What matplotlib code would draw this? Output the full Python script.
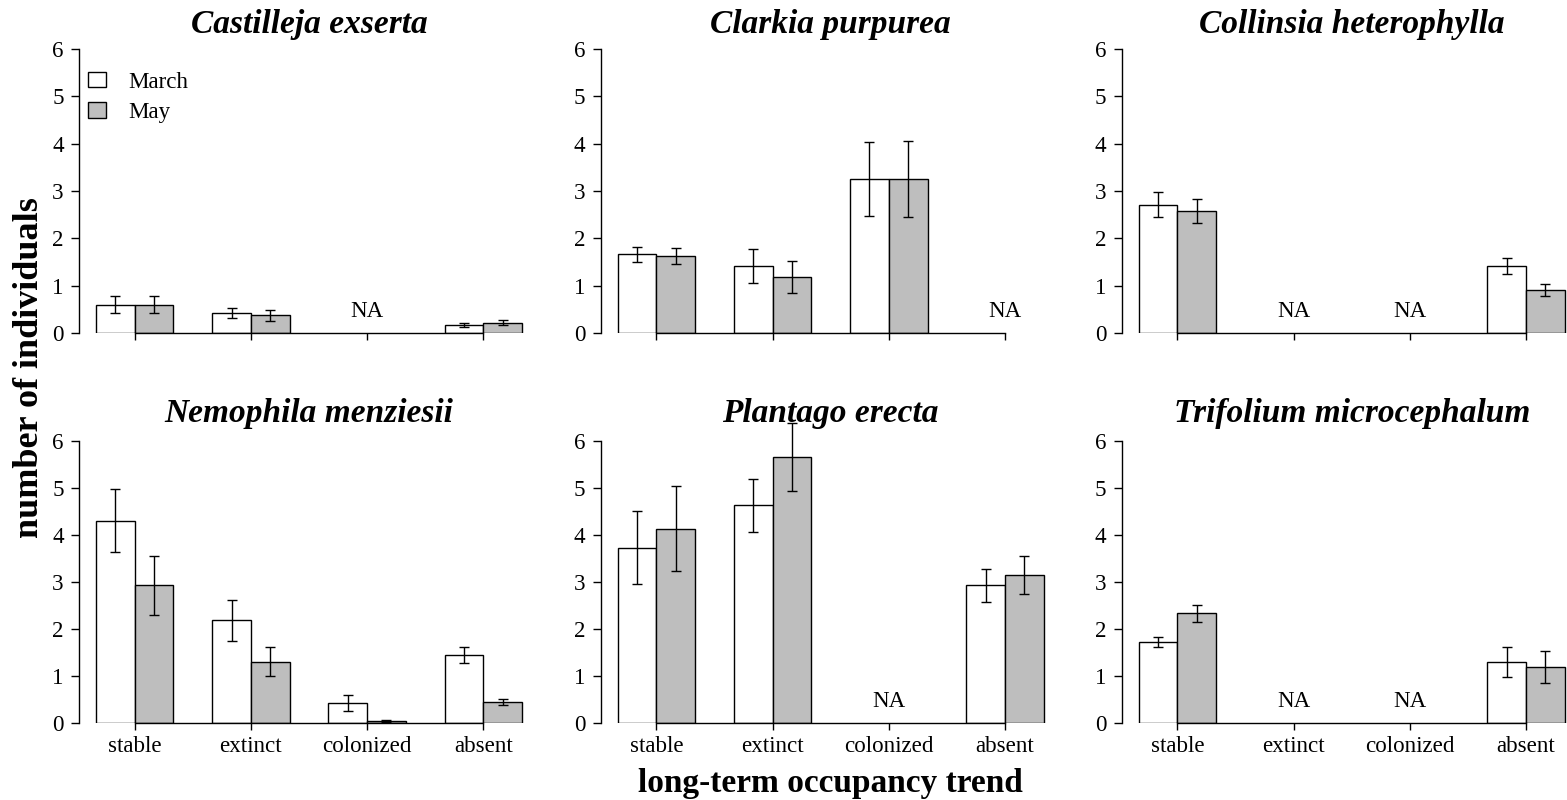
import numpy as np
import matplotlib
matplotlib.use("Agg")
from matplotlib import pyplot as plt
from matplotlib.patches import Patch

plt.rcParams['font.family'] = ['Liberation Serif', 'DejaVu Serif']

# occupancy trend classes along the x axis
trends = ["stable", "extinct", "colonized", "absent"]

species = ["Castilleja exserta", "Clarkia purpurea", "Collinsia heterophylla",
           "Nemophila menziesii", "Plantago erecta", "Trifolium microcephalum"]

NA = np.nan

# mean number of individuals (+/- SE), one list per species, NA where no plots
castilleja_march = [0.60, 0.42, NA, 0.17]
castilleja_march_se = [0.18, 0.11, NA, 0.045]
castilleja_may = [0.60, 0.37, NA, 0.22]
castilleja_may_se = [0.18, 0.12, NA, 0.06]

clarkia_march = [1.66, 1.415, 3.25, NA]
clarkia_march_se = [0.15, 0.35, 0.78, NA]
clarkia_may = [1.63, 1.19, 3.25, NA]
clarkia_may_se = [0.17, 0.34, 0.80, NA]

collinsia_march = [2.71, NA, NA, 1.415]
collinsia_march_se = [0.26, NA, NA, 0.175]
collinsia_may = [2.58, NA, NA, 0.915]
collinsia_may_se = [0.26, NA, NA, 0.13]

nemophila_march = [4.30, 2.18, 0.42, 1.447]
nemophila_march_se = [0.665, 0.44, 0.175, 0.175]
nemophila_may = [2.93, 1.30, 0.05, 0.447]
nemophila_may_se = [0.63, 0.31, 0.02, 0.07]

plantago_march = [3.73, 4.63, NA, 2.93]
plantago_march_se = [0.785, 0.565, NA, 0.35]
plantago_may = [4.13, 5.66, NA, 3.15]
plantago_may_se = [0.90, 0.72, NA, 0.40]

trifolium_march = [1.72, NA, NA, 1.30]
trifolium_march_se = [0.115, NA, NA, 0.315]
trifolium_may = [2.33, NA, NA, 1.20]
trifolium_may_se = [0.175, NA, NA, 0.34]

march = [castilleja_march, clarkia_march, collinsia_march,
         nemophila_march, plantago_march, trifolium_march]
march_se = [castilleja_march_se, clarkia_march_se, collinsia_march_se,
            nemophila_march_se, plantago_march_se, trifolium_march_se]
may = [castilleja_may, clarkia_may, collinsia_may,
       nemophila_may, plantago_may, trifolium_may]
may_se = [castilleja_may_se, clarkia_may_se, collinsia_may_se,
          nemophila_may_se, plantago_may_se, trifolium_may_se]

W, H = 1567, 800
fig = plt.figure(figsize=(W / 100, H / 100), dpi=100)

# axes boxes in pixels: left edges per column, (top, bottom) per row
col_left = [79, 600.7, 1121.7]
ax_w = 460
rows = [(49, 333), (440.7, 723)]
title_pad = [11.5, 13.7]

w = 1 / 3.0
x = np.arange(len(trends))
tick_fs = 16.6

for k in range(6):
    r, c = divmod(k, 3)
    top, bot = rows[r]
    ax = fig.add_axes([col_left[c] / W, (H - bot) / H, ax_w / W, (bot - top) / H])

    m1 = np.array(march[k], dtype=float)
    s1 = np.array(march_se[k], dtype=float)
    m2 = np.array(may[k], dtype=float)
    s2 = np.array(may_se[k], dtype=float)
    ok = ~np.isnan(m1)

    ax.bar(x[ok] - w / 2, m1[ok], width=w, color="white", edgecolor="black", linewidth=1, zorder=2)
    ax.bar(x[ok] + w / 2, m2[ok], width=w, color="#bebebe", edgecolor="black", linewidth=1, zorder=2)
    ax.errorbar(x[ok] - w / 2, m1[ok], yerr=s1[ok], fmt="none", ecolor="black",
                elinewidth=1, capsize=3.6, capthick=1, zorder=3, clip_on=False)
    ax.errorbar(x[ok] + w / 2, m2[ok], yerr=s2[ok], fmt="none", ecolor="black",
                elinewidth=1, capsize=3.6, capthick=1, zorder=3, clip_on=False)

    for i in x[~ok]:
        ax.text(i, 0.45, "NA", ha="center", va="center", fontsize=tick_fs)

    ax.set_xlim(-0.48, 3.48)
    ax.set_ylim(0, 6)
    ax.set_yticks(range(7))
    ax.set_xticks(x)
    if r == 1:
        ax.set_xticklabels(trends)
    else:
        ax.set_xticklabels([])

    for side in ["top", "right"]:
        ax.spines[side].set_visible(False)
    ax.spines["left"].set_bounds(0, 6)
    ax.spines["bottom"].set_bounds(0, 3)
    ax.spines["left"].set_linewidth(1)
    ax.spines["bottom"].set_linewidth(1)
    ax.tick_params(axis="y", direction="out", length=6, width=1, pad=5, labelsize=tick_fs)
    ax.tick_params(axis="x", direction="out", length=5, width=1, pad=4, labelsize=tick_fs)
    ax.patch.set_visible(False)

    ax.set_title(species[k], fontsize=24, fontweight="bold", fontstyle="italic",
                 pad=title_pad[r])

    if k == 0:
        handles = [Patch(facecolor="white", edgecolor="black", linewidth=1),
                   Patch(facecolor="#bebebe", edgecolor="black", linewidth=1)]
        ax.legend(handles, ["March", "May"], loc="upper left", bbox_to_anchor=(0.02, 0.92),
                  frameon=False, fontsize=tick_fs, handlelength=0.78, handleheight=0.65,
                  handletextpad=0.95, labelspacing=0.4, borderpad=0, borderaxespad=0)

fig.text(30 / W, (H - 368) / H, "number of individuals", rotation=90, ha="center",
         va="center", fontsize=26, fontweight="bold")
fig.text(830.7 / W, (H - 791.7) / H, "long-term occupancy trend", ha="center",
         va="baseline", fontsize=24, fontweight="bold")

plt.savefig("out.png", dpi=100)
